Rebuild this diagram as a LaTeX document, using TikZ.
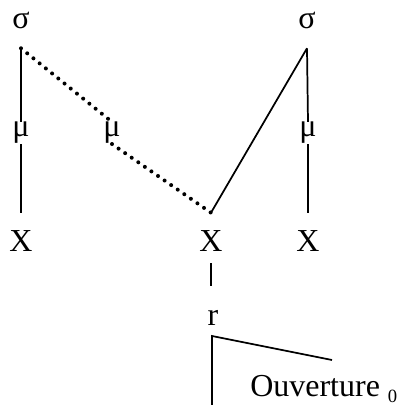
\documentclass[tikz,border=0pt]{standalone}
\usepackage{fontspec}
\setmainfont{Liberation Serif}
\usepackage{tikz}
\usetikzlibrary{calc}
\tikzset{
  seg/.style={inner sep=0pt,font=\fontsize{24}{28}\selectfont},
  segsig/.style={seg,minimum height=42pt},
  segx/.style={seg,minimum height=42pt},
  assoc/.style={line width=1.3pt,draw=black},
  dotassoc/.style={line width=3pt,draw=black,line cap=round,dash pattern=on 0pt off 6pt}
}
\begin{document}
\begin{tikzpicture}[x=0.75pt,y=-0.75pt]
  \useasboundingbox (0,0) rectangle (402,405);
  % syllabes
  \node[segsig] (sigL) at (21,20) {σ};
  \node[segsig] (sigR) at (307,20) {σ};
  % mores
  \node[seg] (muL) at (21,133) {μ};
  \node[seg] (muM) at (112,133) {μ};
  \node[seg] (muR) at (308,133) {μ};
  % squelette
  \node[segx] (xL) at (21,241) {X};
  \node[segx] (xM) at (211,241) {X};
  \node[segx] (xR) at (308,241) {X};
  \node[seg] (rr) at (213,318) {r};
  \coordinate (brk) at (212,336);
  \coordinate (brkR) at (332,360);
  \coordinate (brkB) at (212,405);
  \node[seg,anchor=base west] (ouv) at (250,396)
    {Ouverture \raisebox{-5pt}{\fontsize{14}{14}\selectfont 0}};
  \draw[assoc] (sigL.south) -- (muL.north);
  \draw[assoc] (muL.south) -- (xL.north);
  \draw[dotassoc] (sigL.south) -- (muM.north);
  \draw[dotassoc] (muM.south) -- (xM.north);
  \draw[assoc] (sigR.south) -- (xM.north);
  \draw[assoc] (sigR.south) -- (muR.north);
  \draw[assoc] (muR.south) -- (xR.north);
  \draw[assoc,shorten <=-4.5pt,shorten >=18pt] (xM.south) -- (xM.south |- rr.north);
  \draw[assoc] (brkR) -- (brk) -- (brkB);
\end{tikzpicture}
\end{document}
